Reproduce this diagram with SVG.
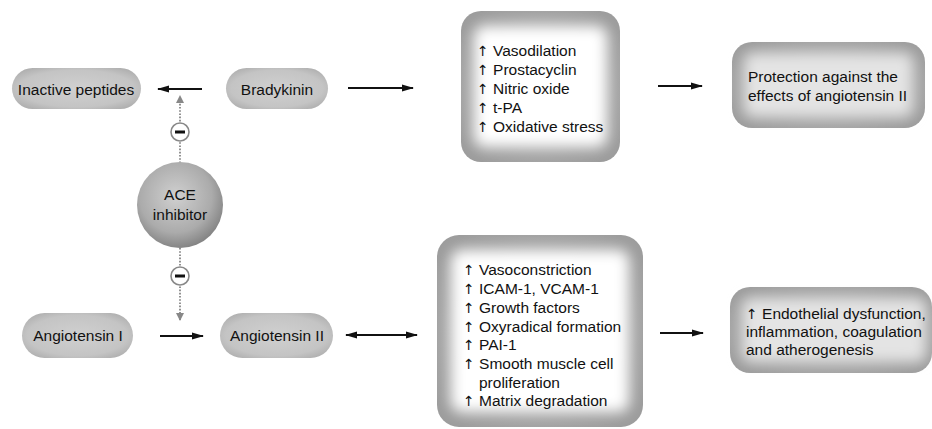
<svg xmlns="http://www.w3.org/2000/svg" width="932" height="429" viewBox="0 0 932 429">
<style>
text{font-family:"Liberation Sans",Arial,sans-serif;font-size:15.5px;fill:#111}
.ar{font-family:"DejaVu Sans",sans-serif;font-size:14px;fill:#111}
.c{text-anchor:middle}
.ln{stroke:#111;stroke-width:1.8;fill:none}
.dl{stroke:#777;stroke-width:1.6;stroke-dasharray:1.6 1.6;fill:none}
.pill{fill:url(#pg)}
.bx{fill:url(#bg)}
.mc{fill:#fff;stroke:#888;stroke-width:1.6}
</style>
<defs>
<radialGradient id="pg" cx="0.5" cy="0.5" r="0.6">
<stop offset="0" stop-color="#d0d0d0"/><stop offset="0.75" stop-color="#c4c4c4"/><stop offset="1" stop-color="#b0b0b0"/>
</radialGradient>
<radialGradient id="bg" cx="0.5" cy="0.5" r="0.62">
<stop offset="0" stop-color="#bdbdbd"/><stop offset="1" stop-color="#9c9c9c"/>
</radialGradient>
<radialGradient id="sg" cx="0.45" cy="0.4" r="0.6">
<stop offset="0" stop-color="#d0d0d0"/><stop offset="0.7" stop-color="#ababab"/><stop offset="1" stop-color="#858585"/>
</radialGradient>
<filter id="bl" x="-20%" y="-20%" width="140%" height="140%"><feGaussianBlur stdDeviation="7"/></filter>
<marker id="ah" viewBox="0 0 12 8" refX="11" refY="4" markerWidth="12" markerHeight="8" markerUnits="userSpaceOnUse" orient="auto-start-reverse">
<path d="M0,0.5 L12,4 L0,7.5 Z" fill="#111"/>
</marker>
<marker id="gh" viewBox="0 0 8 10" refX="7" refY="5" markerWidth="8" markerHeight="10" markerUnits="userSpaceOnUse" orient="auto">
<path d="M0,1 L8,5 L0,9 Z" fill="#888"/>
</marker>
</defs>

<g id="connectors">
<line class="ln" x1="202" y1="89" x2="158" y2="89" marker-end="url(#ah)"/>
<line class="ln" x1="348" y1="88" x2="413" y2="88" marker-end="url(#ah)"/>
<line class="ln" x1="658" y1="86" x2="702" y2="86" marker-end="url(#ah)"/>
<line class="ln" x1="160" y1="336" x2="203" y2="336" marker-end="url(#ah)"/>
<line class="ln" x1="346" y1="335" x2="417" y2="335" marker-start="url(#ah)" marker-end="url(#ah)"/>
<line class="ln" x1="660" y1="333" x2="703" y2="333" marker-end="url(#ah)"/>
<line class="dl" x1="180" y1="163" x2="180" y2="96" marker-end="url(#gh)"/>
<line class="dl" x1="180" y1="248" x2="180" y2="320" marker-end="url(#gh)"/>
<g id="minus-top"><circle class="mc" cx="180" cy="132" r="9"/><rect x="175" y="130.5" width="10" height="3" fill="#111"/></g>
<g id="minus-bottom"><circle class="mc" cx="180" cy="276" r="9"/><rect x="175" y="274.5" width="10" height="3" fill="#111"/></g>
</g>

<g id="inactive-peptides">
<rect class="pill" x="12" y="68" width="129" height="41" rx="20.5"/>
<text class="c" x="76" y="95">Inactive peptides</text>
</g>
<g id="bradykinin">
<rect class="pill" x="226" y="68" width="102" height="41" rx="20.5"/>
<text class="c" x="277" y="95">Bradykinin</text>
</g>
<g id="ace-inhibitor">
<circle cx="180" cy="205" r="43" fill="url(#sg)"/>
<text class="c" x="180" y="200">ACE</text>
<text class="c" x="180" y="220">inhibitor</text>
</g>
<g id="angiotensin-i">
<rect class="pill" x="22" y="313" width="111" height="45" rx="22.5"/>
<text class="c" x="78" y="341">Angiotensin I</text>
</g>
<g id="angiotensin-ii">
<rect class="pill" x="220" y="313" width="113" height="45" rx="22.5"/>
<text class="c" x="277" y="341">Angiotensin II</text>
</g>

<g id="bradykinin-effects">
<rect class="bx" x="461" y="11" width="159" height="151" rx="20"/>
<rect x="474" y="26" width="133" height="121" rx="10" fill="#fff" filter="url(#bl)"/>
<text x="477" y="56"><tspan class="ar">↑</tspan> Vasodilation</text>
<text x="477" y="75"><tspan class="ar">↑</tspan> Prostacyclin</text>
<text x="477" y="94"><tspan class="ar">↑</tspan> Nitric oxide</text>
<text x="477" y="113"><tspan class="ar">↑</tspan> t-PA</text>
<text x="477" y="132"><tspan class="ar">↑</tspan> Oxidative stress</text>
</g>
<g id="protection">
<rect class="bx" x="732" y="42" width="193" height="86" rx="20"/>
<rect x="744" y="53" width="169" height="64" rx="8" fill="#e4e4e4" filter="url(#bl)"/>
<text x="748" y="82">Protection against the</text>
<text x="748" y="101">effects of angiotensin II</text>
</g>
<g id="angiotensin-ii-effects">
<rect class="bx" x="437" y="235" width="206" height="192" rx="22"/>
<rect x="451" y="250" width="178" height="162" rx="10" fill="#fff" filter="url(#bl)"/>
<text x="463" y="275"><tspan class="ar">↑</tspan> Vasoconstriction</text>
<text x="463" y="294"><tspan class="ar">↑</tspan> ICAM-1, VCAM-1</text>
<text x="463" y="313"><tspan class="ar">↑</tspan> Growth factors</text>
<text x="463" y="332"><tspan class="ar">↑</tspan> Oxyradical formation</text>
<text x="463" y="350"><tspan class="ar">↑</tspan> PAI-1</text>
<text x="463" y="369"><tspan class="ar">↑</tspan> Smooth muscle cell</text>
<text x="479" y="388">proliferation</text>
<text x="463" y="406"><tspan class="ar">↑</tspan> Matrix degradation</text>
</g>
<g id="endothelial">
<rect class="bx" x="730" y="287" width="202" height="86" rx="20"/>
<rect x="742" y="298" width="184" height="64" rx="8" fill="#e4e4e4" filter="url(#bl)"/>
<text x="746" y="319"><tspan class="ar">↑</tspan> Endothelial dysfunction,</text>
<text x="746" y="337">inflammation, coagulation</text>
<text x="746" y="355">and atherogenesis</text>
</g>
</svg>
